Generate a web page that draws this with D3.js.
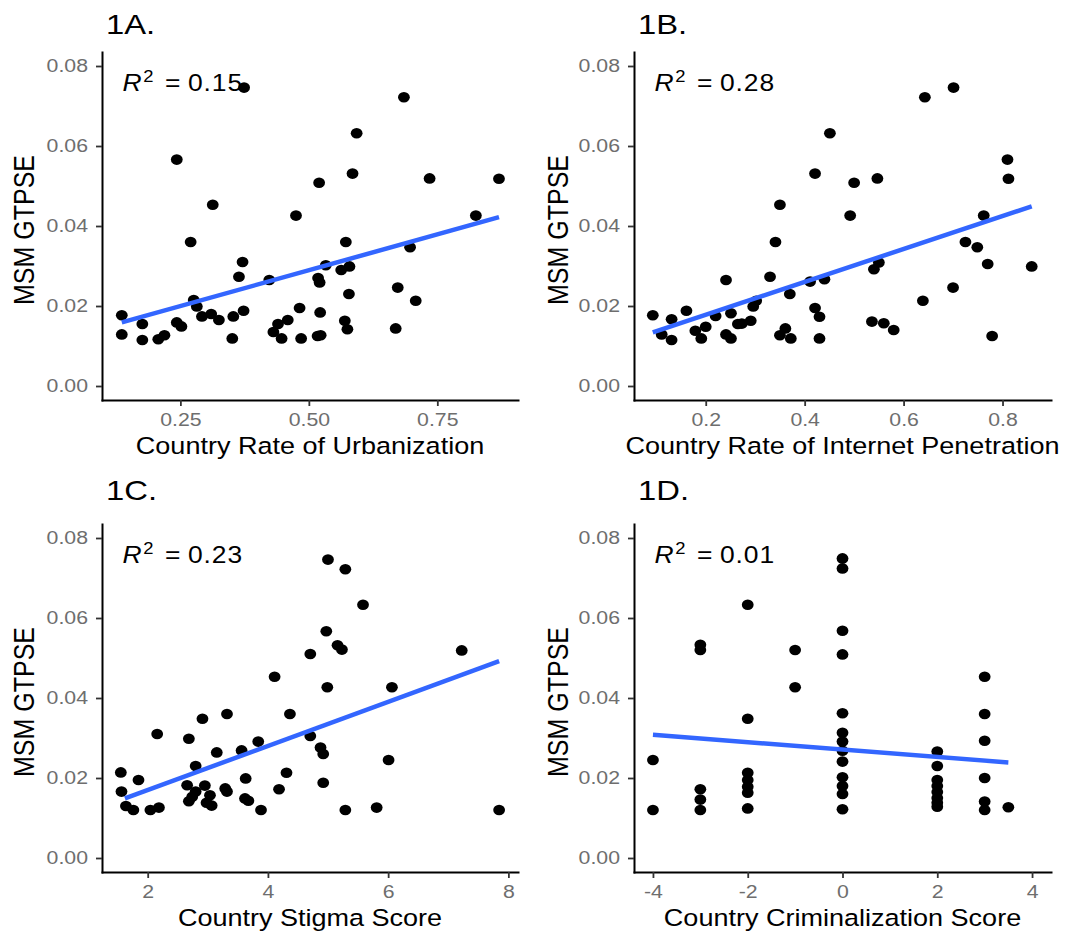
<!DOCTYPE html>
<html>
<head>
<meta charset="utf-8">
<script src="https://cdn.jsdelivr.net/npm/d3@7"></script>
<style>
  body { margin: 0; background: #fff; }
  svg { display: block; font-family: "Liberation Sans", Arial, Helvetica, sans-serif; }
</style>
</head>
<body>
<svg id="chart" width="1069" height="932"></svg>
<script>
// ---- data ----
// 1A: urbanization
const urbX = [0.136,0.136,0.176,0.176,0.207,0.219,0.243,0.252,0.243,0.270,0.276,0.282,0.292,0.310,0.313,0.325,0.351,0.353,0.364,0.371,0.373,0.374,0.423,0.431,0.440,0.447,0.459,0.475,0.482,0.485,0.517,0.523,0.520,0.518,0.521,0.522,0.533,0.563,0.570,0.575,0.572,0.578,0.579,0.585,0.593,0.669,0.673,0.685,0.697,0.708,0.735,0.825,0.870];
const urbY = [0.0177,0.0129,0.0155,0.0115,0.0117,0.0127,0.0159,0.0149,0.0566,0.0360,0.0215,0.0199,0.0174,0.0180,0.0453,0.0165,0.0119,0.0174,0.0273,0.0310,0.0188,0.0746,0.0265,0.0135,0.0155,0.0119,0.0165,0.0426,0.0195,0.0119,0.0125,0.0127,0.0508,0.0270,0.0259,0.0184,0.0302,0.0290,0.0163,0.0142,0.0360,0.0230,0.0299,0.0531,0.0632,0.0144,0.0246,0.0722,0.0347,0.0213,0.0519,0.0426,0.0518];
const urbFitX = [0.136, 0.870];
const urbFitY = [0.0159, 0.0422];
const urbTicks = [0.25, 0.50, 0.75];

// 1B: internet penetration
const intX = [0.093,0.111,0.131,0.131,0.161,0.179,0.191,0.200,0.220,0.241,0.241,0.251,0.251,0.265,0.273,0.291,0.296,0.302,0.330,0.341,0.350,0.350,0.361,0.372,0.370,0.411,0.421,0.421,0.430,0.430,0.440,0.451,0.492,0.500,0.536,0.540,0.550,0.547,0.560,0.580,0.639,0.643,0.700,0.701,0.725,0.749,0.762,0.770,0.779,0.810,0.812,0.859];
const intY = [0.0177,0.0129,0.0167,0.0115,0.0188,0.0138,0.0119,0.0148,0.0175,0.0265,0.0129,0.0119,0.0182,0.0155,0.0156,0.0163,0.0199,0.0213,0.0273,0.0360,0.0453,0.0127,0.0144,0.0119,0.0230,0.0261,0.0195,0.0531,0.0173,0.0119,0.0267,0.0632,0.0426,0.0508,0.0161,0.0292,0.0309,0.0519,0.0157,0.0140,0.0213,0.0722,0.0246,0.0746,0.0360,0.0347,0.0426,0.0305,0.0125,0.0566,0.0518,0.0299];
const intFitX = [0.093, 0.859];
const intFitY = [0.0134, 0.0449];
const intTicks = [0.2, 0.4, 0.6, 0.8];

// 1C: stigma score
const stigX = [1.553,1.564,1.638,1.762,1.847,2.045,2.187,2.158,2.656,2.685,2.685,2.741,2.798,2.798,2.911,2.951,2.979,3.036,3.064,3.149,3.290,3.319,3.319,3.562,3.630,3.619,3.675,3.885,3.839,4.111,4.185,4.309,4.366,4.705,4.705,4.875,4.920,4.920,4.971,4.988,4.999,5.158,5.231,5.288,5.288,5.582,5.809,6.007,6.063,7.224,7.846];
const stigY = [0.0214,0.0166,0.0130,0.0120,0.0195,0.0120,0.0126,0.0310,0.0182,0.0298,0.0142,0.0153,0.0166,0.0230,0.0348,0.0181,0.0138,0.0157,0.0131,0.0264,0.0174,0.0166,0.0360,0.0269,0.0199,0.0149,0.0143,0.0120,0.0291,0.0453,0.0172,0.0213,0.0360,0.0510,0.0305,0.0276,0.0260,0.0188,0.0567,0.0427,0.0746,0.0532,0.0521,0.0722,0.0120,0.0633,0.0126,0.0245,0.0427,0.0519,0.0120];
const stigFitX = [1.621, 7.846];
const stigFitY = [0.0149, 0.0492];
const stigTicks = [2, 4, 6, 8];

// 1D: criminalization score
const crimX = [-4,-4, -3,-3,-3,-3,-3, -2,-2,-2,-2,-2,-2,-2, -1,-1,
  0,0,0,0,0,0,0,0,0,0,0,0,0, 2,2,2,2,2,2,2,2, 3,3,3,3,3,3, 3.5];
const crimY = [0.0245,0.0120, 0.0533,0.0520,0.0172,0.0146,0.0120, 0.0633,0.0348,0.0213,0.0195,0.0178,0.0163,0.0124, 0.0520,0.0427,
  0.0749,0.0724,0.0568,0.0509,0.0362,0.0313,0.0291,0.0268,0.0241,0.0202,0.0180,0.0160,0.0122,
  0.0266,0.0230,0.0195,0.0180,0.0165,0.0150,0.0138,0.0128,
  0.0453,0.0360,0.0293,0.0200,0.0141,0.0120, 0.0127];
const crimFitX = [-4, 3.5];
const crimFitY = [0.0308, 0.0239];
const crimTicks = [-4, -2, 0, 2, 4];

const yTicks = [0, 0.02, 0.04, 0.06, 0.08];
const titles = ["1A.", "1B.", "1C.", "1D."];
const r2Values = ["0.15", "0.28", "0.23", "0.01"];
const xLabels = ["Country Rate of Urbanization", "Country Rate of Internet Penetration",
                 "Country Stigma Score", "Country Criminalization Score"];
const yLabel = "MSM GTPSE";

// ---- layout ----
const SX = 1.15;               // source picture is a bit stretched horizontally
const COL_X = [[102, 518], [634, 1051]];
const ROW_Y = [[400, 52], [872, 524]];
const Y_DOMAIN = [-0.0035, 0.0835];
const TICK_COLOR = "#6e6e6e";
const BLUE = "#3366FF";

const svg = d3.select("#chart");
svg.append("rect").attr("width", 1069).attr("height", 932).attr("fill", "#fff");

const panels = [
  { xs: urbX,  ys: urbY,  fitX: urbFitX,  fitY: urbFitY,  ticks: urbTicks,  domain: [0.0975, 0.907], fmt: d3.format(".2f") },
  { xs: intX,  ys: intY,  fitX: intFitX,  fitY: intFitY,  ticks: intTicks,  domain: [0.055, 0.898],  fmt: d3.format(".1f") },
  { xs: stigX, ys: stigY, fitX: stigFitX, fitY: stigFitY, ticks: stigTicks, domain: [1.24, 8.16],    fmt: d => String(d) },
  { xs: crimX, ys: crimY, fitX: crimFitX, fitY: crimFitY, ticks: crimTicks, domain: [-4.4, 4.4],     fmt: d => String(d) }
];

panels.forEach((p, i) => {
  const col = i % 2, row = Math.floor(i / 2);
  const xr = COL_X[col], yr = ROW_Y[row];
  const x = d3.scaleLinear().domain(p.domain).range(xr);
  const y = d3.scaleLinear().domain(Y_DOMAIN).range(yr);
  const g = svg.append("g").attr("class", "panel");

  // points
  g.append("g").selectAll("ellipse")
    .data(p.xs.map((v, k) => [v, p.ys[k]]))
    .join("ellipse")
    .attr("cx", d => x(d[0]))
    .attr("cy", d => y(d[1]))
    .attr("rx", 5.9).attr("ry", 5.3)
    .attr("fill", "#000");

  // fitted line
  g.append("path")
    .datum(p.fitX.map((v, k) => [v, p.fitY[k]]))
    .attr("d", d3.line().x(d => x(d[0])).y(d => y(d[1])))
    .attr("fill", "none")
    .attr("stroke", BLUE)
    .attr("stroke-width", 4.5);

  // axes
  const xAxis = g.append("g")
    .attr("transform", `translate(0,${yr[0]})`)
    .call(d3.axisBottom(x).tickValues(p.ticks).tickFormat(p.fmt)
      .tickSize(6).tickPadding(7).tickSizeOuter(0));
  const yAxis = g.append("g")
    .attr("transform", `translate(${xr[0]},0)`)
    .call(d3.axisLeft(y).tickValues(yTicks).tickFormat(d3.format(".2f"))
      .tickSize(6).tickPadding(6.2).tickSizeOuter(0));

  [xAxis, yAxis].forEach(a => {
    a.select(".domain").attr("stroke", "#000").attr("stroke-width", 2).attr("stroke-linecap", "square");
    a.selectAll(".tick line").attr("stroke", "#333").attr("stroke-width", 1.8);
    a.selectAll(".tick text")
      .attr("fill", TICK_COLOR)
      .attr("font-size", "18.5px")
      .attr("font-family", "Liberation Sans, Arial, sans-serif")
      .attr("transform", `scale(${SX},1)`);
  });

  // panel tag
  g.append("text")
    .attr("transform", `translate(${xr[0] + 4},${row ? 500 : 34}) scale(${SX},1)`)
    .attr("font-size", "28.5px")
    .attr("fill", "#000")
    .text(titles[i]);

  // x axis title
  g.append("text")
    .attr("transform", `translate(${(xr[0] + xr[1]) / 2},${yr[0] + 54}) scale(${SX},1)`)
    .attr("text-anchor", "middle")
    .attr("font-size", "23.5px")
    .attr("fill", "#000")
    .text(xLabels[i]);

  // y axis title
  g.append("text")
    .attr("transform", `translate(${col ? 568 : 34},${(yr[0] + yr[1]) / 2 + 4}) scale(${SX},1) rotate(-90)`)
    .attr("text-anchor", "middle")
    .attr("font-size", "25px")
    .attr("fill", "#000")
    .text(yLabel);

  // R^2 annotation
  const r2 = g.append("text")
    .attr("transform", `translate(${xr[0] + 20.5},${yr[1] + 39}) scale(${SX},1)`)
    .attr("font-size", "23px")
    .attr("fill", "#000");
  r2.append("tspan").attr("font-style", "italic").text("R");
  r2.append("tspan").attr("font-size", "16px").attr("dx", 1.5).attr("dy", -9).text("2");
  r2.append("tspan").attr("dx", 10).attr("dy", 9).text("=");
  r2.append("tspan").attr("dx", 6.5).attr("letter-spacing", 0.8).text(r2Values[i]);
});
</script>
</body>
</html>
